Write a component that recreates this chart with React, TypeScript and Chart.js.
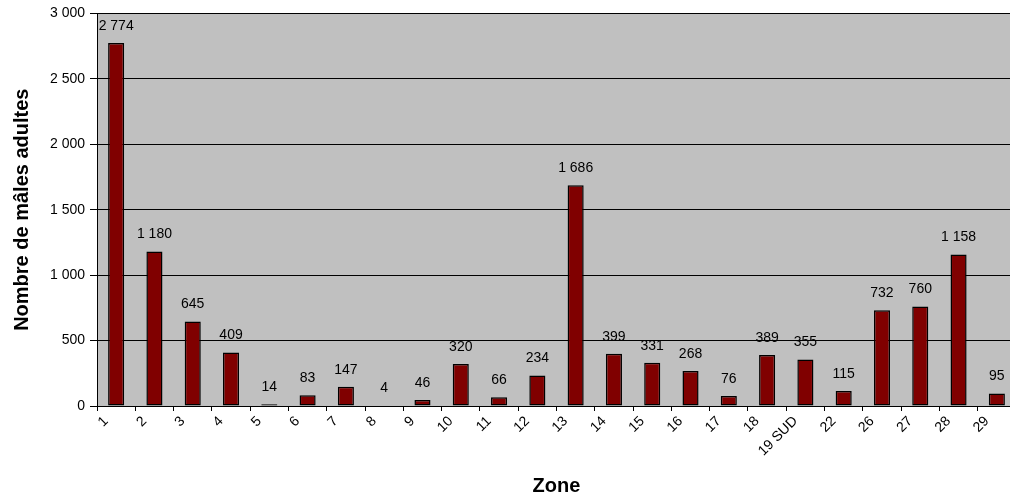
import React, { useEffect, useRef } from "react";
import { Chart, registerables } from "chart.js";

Chart.register(...registerables);

const zones = ["1","2","3","4","5","6","7","8","9","10","11","12","13","14","15","16","17","18","19 SUD","22","26","27","28","29"];
const males = [2774,1180,645,409,14,83,147,4,46,320,66,234,1686,399,331,268,76,389,355,115,732,760,1158,95];
const yTickValues = [0,500,1000,1500,2000,2500,3000];

const fmt = (v: number) => String(Math.round(v)).replace(/\B(?=(\d{3})+(?!\d))/g, " ");
const FONT = "'Liberation Sans', Arial, sans-serif";

const bgPlugin = {
  id: "plotBg",
  beforeDraw(chart: any) {
    const { ctx, chartArea } = chart;
    ctx.save();
    ctx.fillStyle = "#C0C0C0";
    ctx.fillRect(chartArea.left, chartArea.top, chartArea.right - chartArea.left, chartArea.bottom - chartArea.top);
    ctx.restore();
  },
};

const labelPlugin = {
  id: "barLabels",
  afterDatasetsDraw(chart: any) {
    const { ctx } = chart;
    const meta = chart.getDatasetMeta(0);
    const data = chart.data.datasets[0].data as number[];
    ctx.save();
    ctx.font = "14px " + FONT;
    ctx.fillStyle = "#000";
    ctx.textAlign = "center";
    ctx.textBaseline = "middle";
    meta.data.forEach((bar: any, i: number) => {
      ctx.fillText(fmt(data[i]), bar.x, bar.y - 17);
    });
    ctx.restore();
  },
};

export default function App() {
  const ref = useRef<HTMLCanvasElement>(null);
  useEffect(() => {
    document.documentElement.style.overflow = "hidden";
    document.body.style.margin = "0";
    document.body.style.overflow = "hidden";
    const chart = new Chart(ref.current!, {
      type: "bar",
      data: {
        labels: zones,
        datasets: [
          {
            data: males,
            backgroundColor: "#800000",
            borderColor: "#000000",
            borderWidth: 1.5,
            borderSkipped: false,
            barPercentage: 0.42,
            categoryPercentage: 1,
          },
        ],
      },
      options: {
        animation: false,
        responsive: false,
        layout: { padding: { top: 12, right: 0, left: 0, bottom: 0 } },
        plugins: { legend: { display: false }, tooltip: { enabled: false } },
        scales: {
          x: {
            grid: {
              display: true,
              drawOnChartArea: false,
              drawTicks: true,
              tickLength: 5,
              color: "#000",
              offset: true,
            },
            border: { color: "#000" },
            ticks: {
              color: "#000",
              font: { family: FONT, size: 14 },
              minRotation: 45,
              maxRotation: 45,
              autoSkip: false,
              labelOffset: -10,
              padding: 2,
            },
            title: {
              display: true,
              text: "Zone",
              color: "#000",
              font: { family: FONT, size: 20, weight: "bold" },
              padding: { top: 0, bottom: 3 },
            },
            afterFit: (s: any) => {
              s.height = 95;
            },
          },
          y: {
            min: 0,
            max: 3000,
            afterBuildTicks: (s: any) => {
              s.ticks = yTickValues.map((v) => ({ value: v }));
            },
            grid: { color: "#000", tickLength: 7, drawTicks: true },
            border: { color: "#000" },
            ticks: {
              color: "#000",
              font: { family: FONT, size: 14 },
              padding: 5,
              callback: (v: any) => fmt(Number(v)),
            },
            title: {
              display: true,
              text: "Nombre de mâles adultes",
              color: "#000",
              font: { family: FONT, size: 20, weight: "bold" },
              padding: { top: 10, bottom: 0 },
            },
            afterFit: (s: any) => {
              s.width = 97;
            },
          },
        },
      },
      plugins: [bgPlugin, labelPlugin],
    });
    return () => chart.destroy();
  }, []);
  return <canvas ref={ref} width={1016} height={501} style={{ display: "block" }} />;
}
